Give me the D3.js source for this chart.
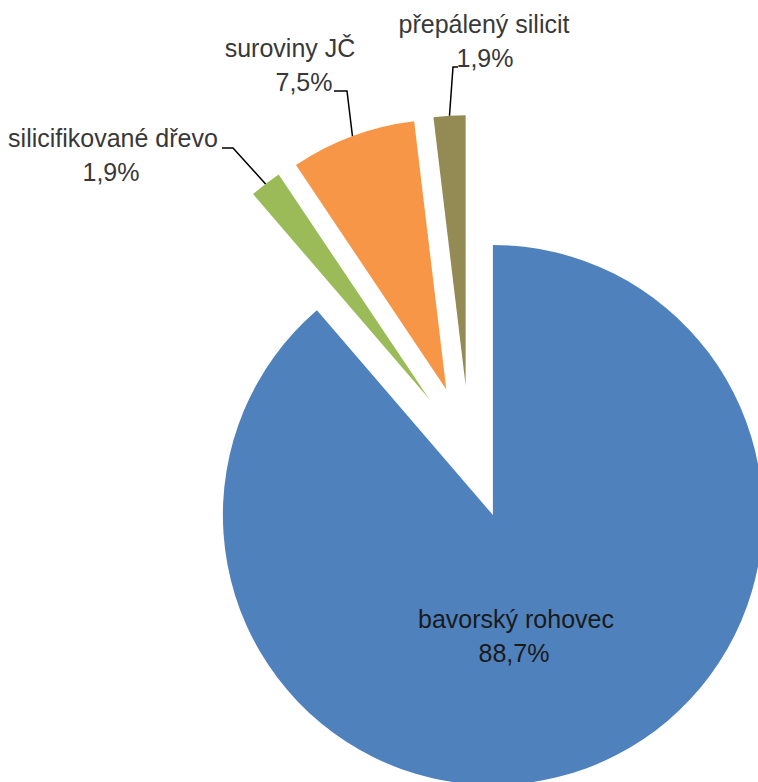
<!DOCTYPE html>
<html><head><meta charset="utf-8">
<script src="https://cdn.jsdelivr.net/npm/d3@7"></script>
<style>body{margin:0;background:#fff}svg{display:block}</style>
</head><body>
<script>
const categories = ["bavorský rohovec","silicifikované dřevo","suroviny JČ","přepálený silicit"];
const values = [88.7, 1.9, 7.5, 1.9];
const valueLabels = ["88,7%","1,9%","7,5%","1,9%"];
const colors = ["#4F81BD","#9BBB59","#F79646","#948A54"];

const W = 758, H = 782;
const cx = 469.6, cy = 452.2, R = 270, explode = 67;
const svg = d3.select("body").append("svg").attr("width", W).attr("height", H);
const font = "Liberation Sans, Arial, sans-serif";

const pie = d3.pie().sort(null).value(d => d)(values);
const arc = d3.arc().innerRadius(0).outerRadius(R);
const g = svg.append("g").attr("transform", `translate(${cx},${cy})`);

pie.forEach((p, i) => {
  const m = (p.startAngle + p.endAngle) / 2;
  const ox = explode * Math.sin(m), oy = -explode * Math.cos(m);
  p.ox = ox; p.oy = oy; p.mid = m;
  g.append("path").attr("d", arc(p)).attr("fill", colors[i])
    .attr("transform", `translate(${ox},${oy})`);
});

const layout = [
  {x1: 516, x2: 514, y: 628, line: null},
  {x1: 113, x2: 111, y: 147, line: [[233,148],[222,148]]},
  {x1: 290, x2: 304, y: 57, line: [[347,91],[334,91]]},
  {x1: 484, x2: 485, y: 33, line: [[453,67],[458,67]]}
];

pie.forEach((p, i) => {
  const L = layout[i];
  if (L.line) {
    const sx = cx + p.ox + R * Math.sin(p.mid), sy = cy + p.oy - R * Math.cos(p.mid);
    const pts = [[sx, sy]].concat(L.line);
    svg.append("path").attr("d", d3.line()(pts)).attr("fill", "none")
      .attr("stroke", "#000").attr("stroke-width", 1.5);
  }
  const t = svg.append("text").attr("text-anchor", "middle")
    .attr("font-family", font).attr("font-size", 25).attr("fill", i === 0 ? "#1a1a1a" : "#383838");
  t.append("tspan").attr("x", L.x1).attr("y", L.y).text(categories[i]);
  t.append("tspan").attr("x", L.x2).attr("y", L.y + 34).text(valueLabels[i]);
});
</script>
</body></html>
